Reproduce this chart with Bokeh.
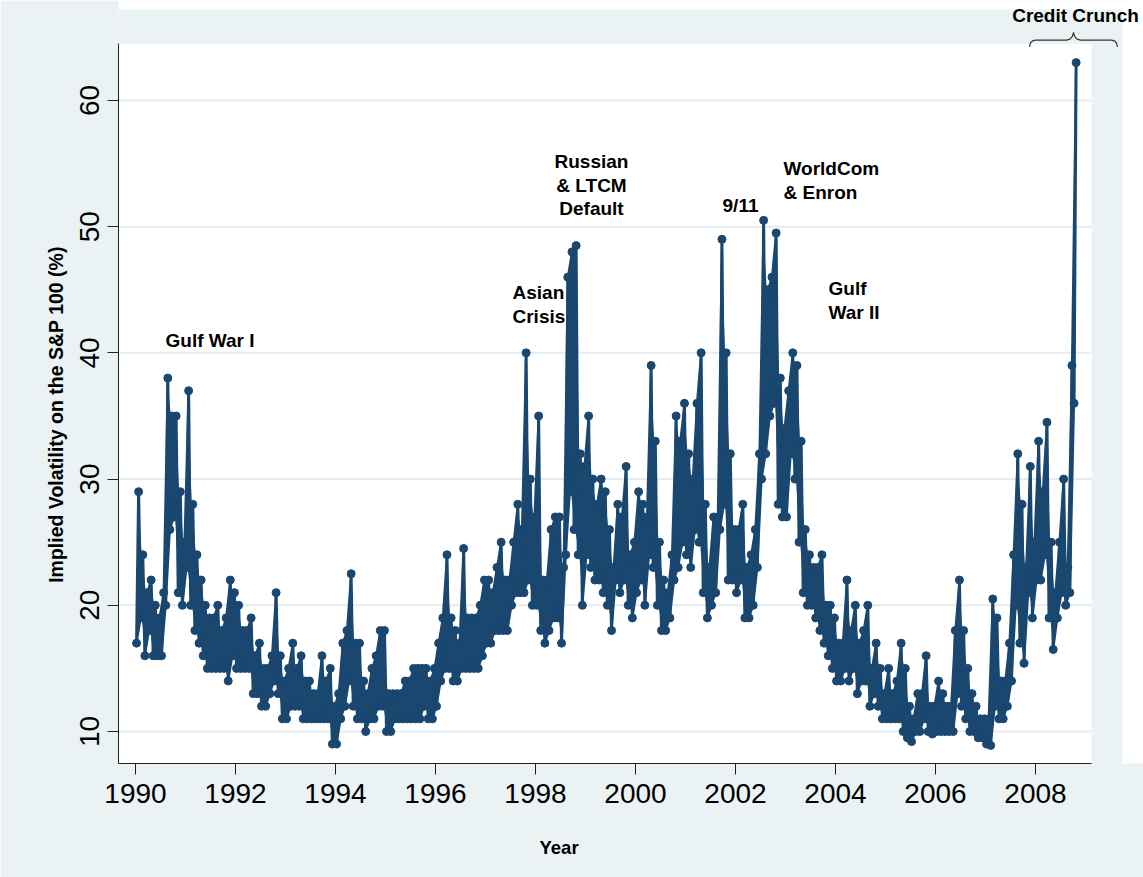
import pandas as pd
from bokeh.plotting import figure
from bokeh.models import Range1d, Label, FixedTicker, ColumnDataSource
from bokeh.embed import file_html
from bokeh.resources import INLINE

# ---------------- data ----------------
first_month = "1990-01"
last_month = "2008-10"

# monthly low / high of the implied volatility (VXO, %)
monthly_low = [
    17, 19, 16, 18, 16, 16, 16, 20, 26, 27, 21, 20,          # 1990
    23, 20, 18, 17, 16, 15, 15, 15, 15, 15, 14, 16,          # 1991
    15, 15, 15, 15, 13, 13, 12, 12, 13, 14, 13, 11,          # 1992
    11, 12, 12, 12, 11, 11, 11, 11, 11, 11, 11, 9,           # 1993
    9, 11, 12, 14, 12, 11, 11, 10, 11, 11, 12, 12,           # 1994
    10, 10, 11, 11, 11, 11, 11, 11, 11, 12, 11, 11,          # 1995
    12, 14, 15, 15, 14, 14, 15, 15, 15, 15, 15, 16,          # 1996
    17, 17, 18, 18, 18, 18, 20, 21, 21, 21, 22, 20,          # 1997
    20, 18, 17, 18, 19, 19, 17, 24, 29, 26, 24, 20,          # 1998
    24, 23, 22, 22, 21, 20, 18, 22, 21, 22, 20, 19,          # 1999
    21, 22, 20, 24, 23, 20, 18, 18, 19, 22, 23, 25,          # 2000
    24, 23, 26, 25, 21, 19, 20, 21, 26, 28, 22, 22,          # 2001
    21, 22, 19, 19, 20, 23, 30, 32, 35, 36, 28, 27,          # 2002
    27, 32, 30, 25, 21, 20, 20, 19, 18, 17, 16, 15,          # 2003
    14, 14, 15, 14, 15, 13, 14, 14, 12, 13, 12, 11,          # 2004
    11, 11, 11, 11, 10, 9.5, 9.2, 10, 10, 11, 10, 9.8,       # 2005
    10, 10, 10, 10, 10, 13, 12, 11, 10, 10, 9.5, 9.5,        # 2006
    9, 8.9, 12, 11, 11, 12, 14, 20, 17, 15.4, 21, 19,        # 2007
    22, 22, 24, 19, 16.5, 19, 21, 20, 21, 36,                # 2008
]
monthly_high = [
    29, 24, 21, 22, 20, 19, 21, 38, 35, 35, 29, 25,          # 1990
    37, 28, 24, 22, 20, 19, 19, 20, 18, 19, 22, 21,          # 1991
    20, 18, 18, 19, 16, 17, 15, 15, 16, 21, 16, 14,          # 1992
    15, 17, 15, 16, 14, 14, 13, 13, 16, 14, 15, 12,          # 1993
    13, 17, 18, 22.5, 17, 17, 14, 13, 15, 16, 18, 18,        # 1994
    13, 13, 13, 13, 14, 14, 15, 15, 15, 15, 14, 15,          # 1995
    17, 19, 24, 19, 18, 17, 24.5, 19, 19, 19, 20, 22,        # 1996
    22, 21, 23, 25, 22, 22, 25, 28, 26, 40, 30, 27,          # 1997
    35, 22, 22, 26, 27, 27, 23, 46, 48, 48.5, 32, 31,        # 1998
    35, 30, 28, 30, 29, 26, 23, 28, 27, 31, 24, 25,          # 1999
    29, 28, 27, 39, 33, 25, 22, 21, 24, 35, 33, 36,          # 2000
    32, 30, 36, 40, 28, 23, 27, 27, 49, 40, 32, 26,          # 2001
    26, 28, 23, 24, 26, 32, 50.5, 45, 46, 49.5, 38, 34,      # 2002
    37, 40, 39, 33, 26, 24, 23, 23, 24, 20, 20, 19,          # 2003
    17, 17, 22, 18, 20, 17, 18, 20, 15, 17, 15, 13,          # 2004
    15, 13, 14, 17, 15, 12, 11, 13, 13, 16, 12, 12,          # 2005
    14, 13, 12, 12, 18, 22, 18, 15, 13, 12, 11, 11,          # 2006
    11, 20.5, 19, 14, 14, 17, 24, 32, 28, 23, 31, 25,        # 2007
    33, 29, 34.5, 25, 21, 25, 30, 23, 39, 63,                # 2008
]

x_ticks = [1990, 1992, 1994, 1996, 1998, 2000, 2002, 2004, 2006, 2008]
y_ticks = [10, 20, 30, 40, 50, 60]

x_title = "Year"
y_title = "Implied Volatility on the S&P 100 (%)"

# ---------------- build the series ----------------
months = pd.period_range(first_month, last_month, freq="M")
xs, ys, xm = [], [], []
for m, lo, hi in zip(months, monthly_low, monthly_high):
    base = m.year + (m.month - 1) / 12.0
    xs.append(base + 0.25 / 12.0)
    ys.append(lo)
    xs.append(base + 0.75 / 12.0)
    ys.append(hi)
    xm.append(base + 0.5 / 12.0)
src = ColumnDataSource(dict(x=xs, y=ys))
band = ColumnDataSource(dict(x=xm, lo=monthly_low, hi=monthly_high))

NAVY = "#1a476f"
BG = "#EAF2F3"
FONT = "Liberation Sans"
NBSP = "\u00a0"

# plot region (white) and the full frame (which also holds the grey margin above/right)
X0, X1 = 1989.66, 2009.12
Y0, Y1 = 7.464, 64.5
FX1 = 2010.16
FY1 = 67.92

p = figure(frame_width=1025, frame_height=763,
           min_border_left=118, min_border_right=0,
           min_border_top=0, min_border_bottom=114,
           x_range=Range1d(X0, FX1), y_range=Range1d(Y0, FY1),
           output_backend="svg", toolbar_location=None)
p.border_fill_color = BG
p.background_fill_color = BG
p.outline_line_color = None
p.xgrid.visible = False
p.ygrid.visible = False

# white plot region + white page strip at right / top
p.quad(left=[X0, 2009.74, X0], right=[X1, FX1, FX1],
       bottom=[Y0, Y0, 67.21], top=[Y1, FY1, FY1],
       fill_color="white", line_color=None, level="image")

# horizontal grid lines at the y ticks
p.segment(x0=[X0] * len(y_ticks), x1=[X1] * len(y_ticks), y0=y_ticks, y1=y_ticks,
          line_color="#E3ECEE", line_width=2)

# monthly range band + daily-style trace
p.varea(x="x", y1="lo", y2="hi", source=band, fill_color=NAVY)
p.line("x", "y", source=src, line_color=NAVY, line_width=3)
p.scatter("x", "y", source=src, size=8, fill_color=NAVY, line_color=NAVY)

# axes
for ax in (p.xaxis[0], p.yaxis[0]):
    ax.axis_line_color = "#222222"
    ax.axis_line_width = 1
    ax.major_tick_line_color = "#222222"
    ax.major_tick_in = 0
    ax.major_tick_out = 11
    ax.minor_tick_line_color = None
    ax.major_label_text_font = FONT
    ax.major_label_text_font_size = "28px"
    ax.major_label_text_color = "black"
    ax.axis_label_text_font = FONT
    ax.axis_label_text_font_style = "bold"
    ax.axis_label_text_color = "black"

p.xaxis.bounds = (X0, X1)
p.yaxis.bounds = (Y0, Y1)
p.xaxis.ticker = FixedTicker(ticks=x_ticks)
p.yaxis.ticker = FixedTicker(ticks=y_ticks)
p.xaxis.major_label_standoff = 9
p.yaxis.major_label_standoff = 8
p.yaxis.major_label_orientation = "vertical"

# axis titles (padding with no-break spaces moves them to where the original puts them)
p.xaxis.axis_label = x_title + NBSP * 28
p.yaxis.axis_label = y_title + NBSP * 12
p.xaxis.axis_label_text_font_size = "18.5px"
p.yaxis.axis_label_text_font_size = "19.5px"
p.xaxis.axis_label_standoff = 31
p.yaxis.axis_label_standoff = 11

# event annotations
def lab(x, y, text, align="left"):
    p.add_layout(Label(x=x, y=y, text=text, text_font=FONT, text_font_style="bold",
                       text_font_size="19px", text_color="black",
                       text_align=align, text_baseline="middle"))

lab(1990.6, 41.0, "Gulf War I")
lab(1997.54, 44.8, "Asian")
lab(1997.54, 42.9, "Crisis")
lab(1999.12, 55.2, "Russian", "center")
lab(1999.12, 53.3, "& LTCM", "center")
lab(1999.12, 51.4, "Default", "center")
lab(2002.1, 51.7, "9/11", "center")
lab(2002.96, 54.6, "WorldCom")
lab(2002.96, 52.7, "& Enron")
lab(2003.86, 45.1, "Gulf")
lab(2003.86, 43.2, "War II")
lab(2008.8, 66.73, "Credit Crunch", "center")

# curly brace over the credit crunch
brace_x = [2007.88, 2007.90, 2007.94, 2008.00, 2008.62, 2008.69, 2008.74, 2008.76,
           2008.78, 2008.83, 2008.90, 2009.52, 2009.58, 2009.62, 2009.64]
brace_y = [64.25, 64.55, 64.72, 64.78, 64.78, 64.86, 65.1, 65.4,
           65.1, 64.86, 64.78, 64.78, 64.72, 64.55, 64.25]
p.line(brace_x, brace_y, line_color="#333333", line_width=1.2)

open("out.html", "w").write(file_html(p, INLINE))
